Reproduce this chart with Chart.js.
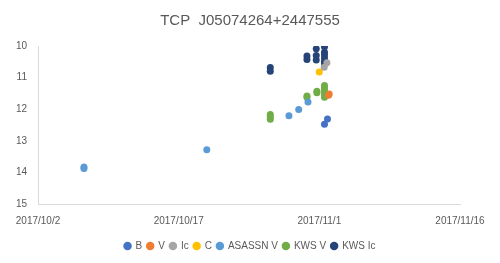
<!DOCTYPE html>
<html>
<head>
<meta charset="utf-8">
<script src="https://cdn.jsdelivr.net/npm/chart.js@4"></script>
<style>
  html, body { margin: 0; padding: 0; background: #fff; }
  #wrap { width: 500px; height: 263px; }
</style>
</head>
<body>
<div id="wrap"><canvas id="myChart"></canvas></div>
<script>
// x = days since 2017/10/2, y = magnitude
var dateLabels = ['2017/10/2', '2017/10/17', '2017/11/1', '2017/11/16'];

var bDays = [30.55, 30.87];
var bMags = [12.48, 12.31];

var vDays = [30.98, 31.05];
var vMags = [11.56, 11.52];

var icDays = [30.52, 30.81];
var icMags = [10.67, 10.53];

var cDays = [29.99];
var cMags = [10.82];

var asassnDays = [4.9, 4.9, 18.0, 26.76, 27.8, 28.79];
var asassnMags = [13.83, 13.88, 13.28, 12.21, 12.01, 11.77];

var kwsVDays = [24.77, 24.77, 24.77, 28.68, 28.68, 29.74, 29.74, 30.55, 30.55, 30.55, 30.55, 30.55];
var kwsVMags = [12.17, 12.24, 12.32, 11.58, 11.62, 11.43, 11.48, 11.25, 11.33, 11.42, 11.52, 11.62];

var kwsIcDays = [24.77, 24.77, 28.68, 28.68, 29.67, 29.67, 29.67, 30.55, 30.55, 30.55, 30.55, 30.55, 30.55];
var kwsIcMags = [10.68, 10.80, 10.32, 10.43, 10.09, 10.30, 10.44, 10.02, 10.20, 10.28, 10.38, 10.48, 10.56];

function pts(xs, ys) {
    return xs.map(function (x, i) { return { x: x, y: ys[i] }; });
}

function series(label, xs, ys, color) {
    return {
        label: label,
        data: pts(xs, ys),
        backgroundColor: color,
        borderColor: color,
        pointRadius: 3.5,
        pointHoverRadius: 3.5,
        borderWidth: 0
    };
}

var ctx = document.getElementById('myChart').getContext('2d');
var myChart = new Chart(ctx, {
    type: 'scatter',
    data: {
        datasets: [
            series('B', bDays, bMags, '#4472C4'),
            series('V', vDays, vMags, '#ED7D31'),
            series('Ic', icDays, icMags, '#A5A5A5'),
            series('C', cDays, cMags, '#FFC000'),
            series('ASASSN V', asassnDays, asassnMags, '#5B9BD5'),
            series('KWS V', kwsVDays, kwsVMags, '#70AD47'),
            series('KWS Ic', kwsIcDays, kwsIcMags, '#264478')
        ]
    },
    options: {
        responsive: true,
        maintainAspectRatio: false,
        animation: false,
        layout: {
            padding: { left: 0, right: 0, top: 8, bottom: 2 }
        },
        scales: {
            x: {
                type: 'linear',
                min: 0,
                max: 45,
                afterFit: function (scale) { scale.height -= 2; },
                ticks: {
                    stepSize: 15,
                    color: '#595959',
                    font: { size: 10, family: 'Liberation Sans' },
                    maxRotation: 0,
                    padding: 11,
                    callback: function (v) { return dateLabels[Math.round(v / 15)]; }
                },
                grid: { display: false, drawTicks: false },
                border: { color: '#D9D9D9' }
            },
            y: {
                reverse: true,
                min: 10,
                max: 15,
                afterFit: function (scale) { scale.width = 38; },
                ticks: {
                    stepSize: 1,
                    color: '#595959',
                    font: { size: 10, family: 'Liberation Sans' },
                    padding: 11
                },
                grid: { display: false, drawTicks: false },
                border: { color: '#D9D9D9' }
            },
            yRight: {
                position: 'right',
                afterFit: function (scale) { scale.width = 40; },
                ticks: { display: false },
                grid: { display: false, drawTicks: false },
                border: { display: false }
            }
        },
        plugins: {
            legend: {
                position: 'bottom',
                labels: {
                    usePointStyle: true,
                    pointStyle: 'circle',
                    boxWidth: 6,
                    boxHeight: 6,
                    padding: 5,
                    color: '#595959',
                    font: { size: 10, family: 'Liberation Sans' }
                }
            },
            title: {
                display: true,
                text: 'TCP  J05074264+2447555',
                color: '#595959',
                font: { size: 15, weight: 'normal', family: 'Liberation Sans' },
                padding: { top: 4, bottom: 16 }
            },
            tooltip: { enabled: false }
        }
    }
});
</script>
</body>
</html>
